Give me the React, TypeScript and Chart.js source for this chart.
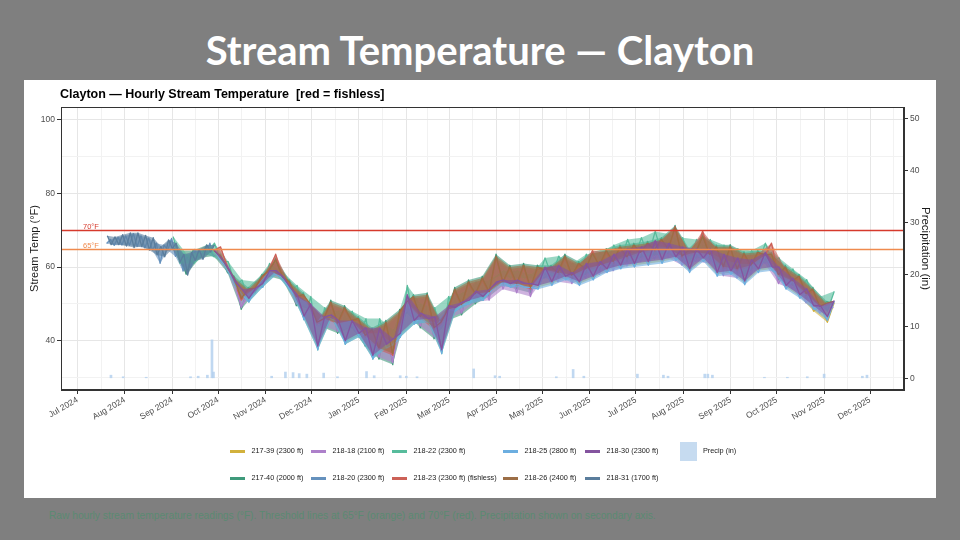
import { useEffect, useRef } from 'react';
import { Chart, registerables } from 'chart.js';

Chart.register(...registerables);

// ---------- data ----------

const seriesNames = [
  '217-39 (2300 ft)',
  '217-40 (2000 ft)',
  '218-18 (2100 ft)',
  '218-20 (2300 ft)',
  '218-22 (2300 ft)',
  '218-23 (2300 ft) (fishless)',
  '218-25 (2800 ft)',
  '218-26 (2400 ft)',
  '218-30 (2300 ft)',
  '218-31 (1700 ft)',
];

const seriesColors = [
  '#d2b13c',
  '#3f9a7b',
  '#ad80ca',
  '#6591bd',
  '#57bc9c',
  '#cc6157',
  '#6caee0',
  '#9c6e46',
  '#84549f',
  '#5a7d9c',
];

// first reading of each logger (UTC) and the interval between the readings kept here
const seriesStarts = [
  '2024-09-28T15:00:00Z',
  '2024-09-01T03:00:00Z',
  '2024-09-28T03:00:00Z',
  '2024-07-20T03:00:00Z',
  '2024-09-01T15:00:00Z',
  '2024-09-28T03:00:00Z',
  '2024-09-28T15:00:00Z',
  '2024-09-28T03:00:00Z',
  '2024-09-28T15:00:00Z',
  '2024-07-20T15:00:00Z',
];
const seriesStepHours = [108, 108, 108, 60, 108, 108, 108, 108, 108, 60];

const temps_217_39 = [
  64.5, 62.0, 59.8, 55.5, 53.5, 51.0, 54.3, 55.0, 59.0, 58.5,
  57.3, 54.0, 52.0, 46.2, 50.0, 38.0, 46.0, 46.5, 45.0, 39.5,
  45.5, 41.5, 43.0, 35.5, 43.0, 38.5, 40.0, 41.5, 52.0, 45.0,
  47.0, 45.5, 46.0, 37.0, 49.0, 48.5, 50.0, 50.5, 53.0, 51.5,
  53.5, 55.5, 56.0, 55.0, 56.0, 55.0, 55.0, 54.5, 59.5, 55.5,
  60.0, 57.0, 58.0, 55.5, 60.5, 57.0, 61.0, 59.0, 63.0, 60.0,
  64.5, 60.5, 65.0, 61.0, 66.7, 61.5, 66.0, 62.3, 65.0, 59.0,
  64.5, 62.0, 64.5, 58.0, 63.0, 58.5, 62.0, 55.7, 61.5, 59.0,
  63.5, 59.5, 59.5, 54.5, 56.5, 52.0, 53.6, 48.0, 49.3, 45.0, 50.4,
];

const temps_217_40 = [
  65.2, 64.5, 58.0, 64.5, 62.5, 66.0, 63.0, 63.5, 58.5, 57.5,
  48.5, 54.5, 53.0, 58.0, 57.5, 62.5, 56.5, 56.5, 49.5, 53.0,
  48.5, 45.5, 43.5, 51.0, 42.0, 49.5, 43.5, 46.5, 38.5, 43.5,
  35.0, 45.5, 33.5, 48.5, 47.5, 52.5, 43.5, 53.0, 40.5, 45.5,
  45.5, 54.5, 47.0, 56.5, 50.0, 57.5, 52.0, 63.5, 55.0, 60.5,
  54.0, 61.0, 53.0, 60.5, 58.0, 60.5, 57.0, 63.5, 56.5, 61.5,
  58.0, 64.2, 59.0, 65.0, 60.0, 66.0, 61.3, 66.5, 62.5, 67.0,
  63.2, 68.0, 63.5, 71.3, 61.5, 65.1, 62.5, 68.8, 62.0, 66.0,
  58.6, 66.1, 58.0, 64.2, 59.0, 64.5, 62.0, 64.0, 56.5, 60.5,
  55.0, 58.0, 51.3, 54.5, 48.5, 50.7, 50.0,
];

const temps_218_18 = [
  63.5, 62.8, 59.0, 56.5, 49.0, 53.0, 53.5, 56.5, 58.0, 61.0,
  57.0, 55.3, 50.0, 51.5, 49.0, 44.0, 44.0, 49.5, 42.5, 48.0,
  44.0, 45.0, 39.0, 42.0, 35.5, 44.0, 34.0, 47.0, 48.0, 51.0,
  44.0, 51.5, 41.0, 44.0, 46.0, 53.0, 47.5, 55.0, 50.5, 56.0,
  51.0, 62.0, 54.0, 59.0, 53.0, 59.5, 52.0, 59.0, 57.0, 59.0,
  56.0, 62.0, 55.5, 60.0, 57.0, 62.7, 58.0, 63.5, 59.0, 64.5,
  60.3, 65.0, 61.5, 65.5, 62.2, 66.5, 62.5, 69.8, 60.5, 63.6,
  61.5, 67.3, 61.0, 64.5, 57.6, 64.6, 57.0, 62.7, 58.0, 63.0,
  61.0, 62.5, 55.5, 59.0, 54.0, 56.5, 50.3, 53.0, 47.5, 49.2, 49.0,
];

const temps_218_20 = [
  66.4, 67.5, 65.9, 68.1, 66.0, 68.5, 65.9, 69.1, 65.6, 68.5,
  65.2, 67.9, 64.6, 66.5, 61.0, 66.0, 64.6, 67.8, 62.9, 64.5,
  58.9, 62.9, 59.9, 64.8, 62.4, 63.8, 63.4, 66.5, 62.9,
];

const temps_218_22 = [
  68.3, 61.0, 63.4, 61.0, 64.3, 63.5, 66.5, 61.5, 61.5, 55.0,
  56.5, 50.5, 56.0, 54.5, 61.0, 58.0, 58.5, 53.5, 55.0, 45.7,
  52.0, 37.5, 49.0, 46.0, 48.0, 39.0, 48.0, 41.0, 46.0, 35.0,
  46.0, 38.0, 43.0, 41.0, 55.0, 44.5, 50.0, 45.0, 49.0, 36.5,
  52.0, 48.0, 53.0, 50.0, 56.0, 51.0, 56.5, 57.5, 59.0, 57.0,
  59.0, 57.0, 58.0, 56.5, 62.5, 57.5, 63.0, 59.0, 61.0, 57.5,
  63.5, 59.0, 64.0, 61.0, 66.0, 62.0, 67.5, 62.5, 68.0, 63.0,
  69.7, 63.5, 69.0, 64.3, 68.0, 61.0, 67.5, 64.0, 67.5, 60.0,
  66.0, 60.5, 65.0, 57.7, 64.5, 61.0, 66.5, 61.5, 62.5, 56.5,
  59.5, 54.0, 56.6, 51.0, 52.0, 48.0, 53.4,
];

const temps_218_23 = [
  64.5, 65.5, 59.8, 56.5, 51.0, 53.5, 54.3, 57.0, 59.0, 63.5,
  57.3, 55.5, 52.0, 52.0, 50.0, 44.5, 46.0, 50.0, 44.5, 48.5,
  45.5, 45.5, 41.0, 42.5, 37.5, 44.5, 36.0, 47.5, 50.0, 51.5,
  46.0, 52.0, 43.0, 44.5, 48.0, 53.5, 49.5, 55.5, 52.5, 56.5,
  53.0, 62.5, 56.0, 59.5, 55.0, 60.0, 54.0, 59.5, 59.0, 59.5,
  58.0, 62.5, 57.5, 60.5, 59.0, 64.5, 60.0, 64.0, 61.0, 65.0,
  62.3, 65.5, 63.5, 66.0, 64.2, 67.0, 64.5, 71.0, 62.5, 64.1,
  63.5, 69.8, 63.0, 65.0, 59.6, 65.1, 59.0, 63.2, 60.0, 63.5,
  63.0, 66.5, 57.5, 59.5, 56.0, 57.0, 52.3, 53.5, 49.3, 49.7, 50.7,
];

const temps_218_25 = [
  64.5, 61.5, 59.8, 55.0, 52.5, 50.5, 54.3, 54.5, 59.0, 58.0,
  57.3, 53.5, 52.0, 45.7, 50.0, 37.5, 46.0, 46.0, 44.8, 39.0,
  45.5, 41.0, 42.0, 35.0, 42.0, 38.0, 39.0, 41.0, 51.0, 44.5,
  46.5, 45.0, 45.0, 36.5, 48.5, 48.0, 49.8, 50.0, 52.8, 51.0,
  53.3, 55.0, 56.0, 54.5, 55.5, 54.5, 54.5, 54.0, 59.3, 55.0,
  59.0, 56.5, 57.8, 55.0, 59.8, 56.5, 60.5, 58.5, 62.0, 59.5,
  63.5, 60.0, 64.3, 60.5, 65.7, 61.0, 65.3, 61.8, 64.0, 58.5,
  64.0, 61.5, 63.8, 57.5, 62.0, 58.0, 61.0, 55.2, 60.8, 58.5,
  63.3, 59.0, 58.5, 54.0, 56.3, 51.5, 53.0, 48.5, 49.3, 45.5, 50.7,
];

const temps_218_26 = [
  64.5, 63.0, 59.8, 57.0, 51.5, 54.0, 54.3, 57.5, 59.0, 62.0,
  57.3, 56.0, 52.0, 52.5, 50.0, 45.0, 46.0, 50.5, 44.8, 49.0,
  45.5, 46.0, 41.5, 43.0, 38.0, 45.0, 36.5, 48.0, 50.5, 52.0,
  46.5, 52.5, 43.5, 45.0, 48.5, 54.0, 49.8, 56.0, 52.8, 57.0,
  53.3, 63.0, 56.0, 60.0, 55.5, 60.5, 54.5, 60.0, 59.3, 60.0,
  58.5, 63.0, 57.8, 61.0, 59.5, 63.7, 60.5, 64.5, 61.5, 65.5,
  62.8, 66.0, 64.0, 66.5, 64.7, 67.5, 65.0, 70.8, 63.0, 64.6,
  64.0, 68.3, 63.5, 65.5, 60.1, 65.6, 59.5, 63.7, 60.5, 64.0,
  63.3, 63.5, 58.0, 60.0, 56.3, 57.5, 52.8, 54.0, 49.3, 50.2, 50.7,
];

const temps_218_30 = [
  64.5, 62.5, 59.8, 56.0, 54.0, 51.5, 54.3, 55.5, 59.0, 59.0,
  57.3, 54.5, 52.5, 46.7, 50.0, 38.5, 46.5, 47.0, 45.5, 40.0,
  45.5, 42.0, 43.5, 36.0, 43.5, 39.0, 40.5, 42.0, 52.5, 45.5,
  47.5, 46.0, 46.5, 37.5, 49.5, 49.0, 50.5, 51.0, 53.5, 52.0,
  54.0, 56.0, 56.5, 55.5, 56.5, 55.5, 55.5, 55.0, 60.0, 56.0,
  60.5, 57.5, 58.5, 56.0, 61.0, 57.5, 61.5, 59.5, 63.5, 60.5,
  65.0, 61.0, 65.5, 61.5, 67.2, 62.0, 66.5, 62.8, 65.5, 59.5,
  65.0, 62.5, 65.0, 58.5, 63.5, 59.0, 62.5, 56.2, 62.0, 59.5,
  64.0, 60.0, 60.0, 55.0, 57.0, 52.5, 54.1, 49.5, 49.5, 46.5, 50.9,
];

const temps_218_31 = [
  68.5, 66.1, 68.2, 66.1, 68.8, 65.7, 69.3, 65.3, 69.3, 65.6,
  68.6, 64.6, 68.0, 63.3, 65.6, 62.8, 67.4, 65.0, 66.5, 61.3,
  63.5, 57.8, 64.0, 61.8, 64.8, 62.1, 66.0, 64.1, 66.0,
];

const seriesTemps = [
  temps_217_39,
  temps_217_40,
  temps_218_18,
  temps_218_20,
  temps_218_22,
  temps_218_23,
  temps_218_25,
  temps_218_26,
  temps_218_30,
  temps_218_31,
];

const precipDates = [
  '2024-07-23', '2024-07-31', '2024-08-15', '2024-09-13', '2024-09-18', '2024-09-24',
  '2024-09-27', '2024-09-28', '2024-11-05', '2024-11-14', '2024-11-19', '2024-11-23',
  '2024-11-28', '2024-12-09', '2024-12-18', '2025-01-06', '2025-01-11', '2025-01-28',
  '2025-02-01', '2025-02-08', '2025-03-17', '2025-03-31', '2025-04-03', '2025-05-10',
  '2025-05-21', '2025-05-28', '2025-07-02', '2025-07-19', '2025-07-22', '2025-08-15',
  '2025-08-17', '2025-08-20', '2025-09-23', '2025-10-08', '2025-10-21', '2025-11-01',
  '2025-11-26', '2025-11-29',
];
const precipInches = [
  0.6, 0.3, 0.2, 0.3, 0.4, 0.6,
  7.4, 1.2, 0.4, 1.2, 1.1, 0.9,
  0.8, 1.0, 0.3, 1.3, 0.5, 0.5,
  0.4, 0.3, 1.8, 0.5, 0.4, 0.3,
  1.7, 0.4, 0.8, 0.6, 0.4, 0.8,
  0.8, 0.6, 0.2, 0.2, 0.3, 0.8,
  0.4, 0.6,
];

const monthStarts = [
  '2024-07-01', '2024-08-01', '2024-09-01', '2024-10-01', '2024-11-01', '2024-12-01',
  '2025-01-01', '2025-02-01', '2025-03-01', '2025-04-01', '2025-05-01', '2025-06-01',
  '2025-07-01', '2025-08-01', '2025-09-01', '2025-10-01', '2025-11-01', '2025-12-01',
  '2026-01-01',
];
const monthLabels = [
  'Jul 2024', 'Aug 2024', 'Sep 2024', 'Oct 2024', 'Nov 2024', 'Dec 2024',
  'Jan 2025', 'Feb 2025', 'Mar 2025', 'Apr 2025', 'May 2025', 'Jun 2025',
  'Jul 2025', 'Aug 2025', 'Sep 2025', 'Oct 2025', 'Nov 2025', 'Dec 2025',
  'Jan 2026',
];

const tempMajorTicks = [40, 60, 80, 100];
const tempMinorTicks = [30, 50, 70, 90];
const precipTicks = [0, 10, 20, 30, 40, 50];

const thresholdValues = [70, 65];
const thresholdLabels = ['70°F', '65°F'];
const thresholdColors = ['#d63a2c', '#ef8a4e'];

// ---------- helpers ----------

const DAY0 = Date.UTC(2024, 6, 1);
const toDay = (iso: string) => (Date.parse(iso) - DAY0) / 86400000;

const X_MIN = -10.65;
const X_MAX = 540.2;

const SANS = '"Liberation Sans", Arial, Helvetica, sans-serif';

const majorDays = monthStarts.map(toDay);
const minorDays = majorDays.slice(0, -1).map((d, i) => (d + majorDays[i + 1]) / 2);
const labelByDay = new Map<number, string>();
majorDays.forEach((d, i) => labelByDay.set(d, monthLabels[i]));
const majorDaySet = new Set(majorDays);
const xTickValues = [...majorDays, ...minorDays]
  .filter((d) => d >= X_MIN && d <= X_MAX)
  .sort((a, b) => a - b);

const MAJOR_GRID = '#e6e6e6';
const MINOR_GRID = '#f2f2f2';
const AXIS_DARK = '#333333';

const withAlpha = (hex: string, a: number) => {
  const n = parseInt(hex.slice(1), 16);
  return `rgba(${(n >> 16) & 255},${(n >> 8) & 255},${n & 255},${a})`;
};

const lineDatasets = seriesNames.map((name, i) => {
  const start = toDay(seriesStarts[i]);
  const step = seriesStepHours[i] / 24;
  return {
    type: 'line' as const,
    label: name,
    data: seriesTemps[i].map((t, j) => ({ x: start + j * step, y: t })),
    borderColor: seriesColors[i],
    bandColor: withAlpha(seriesColors[i], 0.6),
    borderWidth: 1.3,
    borderJoinStyle: 'round' as const,
    pointRadius: 0,
    tension: 0,
    fill: false,
    yAxisID: 'y',
    order: 100 - i,
  };
});

const precipDataset = {
  type: 'bar' as const,
  label: 'Precip (in)',
  data: precipDates.map((d, i) => ({ x: toDay(d), y: precipInches[i] })),
  backgroundColor: 'rgba(176, 206, 238, 0.8)',
  borderWidth: 0,
  barThickness: 2,
  grouped: false,
  yAxisID: 'y2',
  order: 1000,
};

// Shades the span between a logger's alternating afternoon and pre-dawn readings,
// so each record reads as a daily-range band under its trace.
const bandPlugin = {
  id: 'readingBands',
  beforeDatasetDraw(chart: any, args: any) {
    const ds = chart.data.datasets[args.index];
    if (!ds.bandColor) return;
    const pts = args.meta.data;
    if (!pts || pts.length < 3) return;
    const { ctx, chartArea: a } = chart;
    ctx.save();
    ctx.beginPath();
    ctx.rect(a.left, a.top, a.right - a.left, a.bottom - a.top);
    ctx.clip();
    ctx.beginPath();
    ctx.moveTo(pts[0].x, pts[0].y);
    for (let j = 2; j < pts.length; j += 2) ctx.lineTo(pts[j].x, pts[j].y);
    const lastOdd = pts.length % 2 === 0 ? pts.length - 1 : pts.length - 2;
    for (let j = lastOdd; j >= 1; j -= 2) ctx.lineTo(pts[j].x, pts[j].y);
    ctx.closePath();
    ctx.fillStyle = ds.bandColor;
    ctx.fill();
    ctx.restore();
  },
};

const thresholdPlugin = {
  id: 'thresholdLines',
  afterDatasetsDraw(chart: any) {
    const { ctx, chartArea: a, scales } = chart;
    ctx.save();
    thresholdValues.forEach((v, i) => {
      const py = Math.round(scales.y.getPixelForValue(v)) + 0.5;
      ctx.strokeStyle = thresholdColors[i];
      ctx.lineWidth = 1.5;
      ctx.beginPath();
      ctx.moveTo(a.left, py);
      ctx.lineTo(a.right, py);
      ctx.stroke();
      ctx.fillStyle = thresholdColors[i];
      ctx.font = `7.5px ${SANS}`;
      ctx.textAlign = 'left';
      ctx.textBaseline = 'alphabetic';
      ctx.fillText(thresholdLabels[i], a.left + 22, py - 2);
    });
    ctx.restore();
  },
  afterDraw(chart: any) {
    const { ctx, chartArea: a } = chart;
    ctx.save();
    ctx.strokeStyle = AXIS_DARK;
    ctx.lineWidth = 1;
    ctx.strokeRect(a.left + 0.5, a.top + 0.5, a.right - a.left - 1, a.bottom - a.top - 1);
    ctx.restore();
  },
};

const tickFont = { family: SANS, size: 8.5 };

export default function App() {
  const canvasRef = useRef<HTMLCanvasElement | null>(null);

  useEffect(() => {
    const canvas = canvasRef.current;
    if (!canvas) return;
    const chart = new Chart(canvas, {
      type: 'line',
      data: { datasets: [...lineDatasets, precipDataset] as any },
      options: {
        animation: false,
        responsive: false,
        maintainAspectRatio: false,
        devicePixelRatio: 1,
        normalized: true,
        layout: { padding: { top: 27, left: 0, right: 0, bottom: 48 } },
        plugins: {
          legend: { display: false },
          tooltip: { enabled: false },
          title: { display: false },
        },
        scales: {
          x: {
            type: 'linear',
            min: X_MIN,
            max: X_MAX,
            offset: false,
            afterBuildTicks: (scale: any) => {
              scale.ticks = xTickValues.map((v) => ({ value: v }));
            },
            afterFit: (scale: any) => {
              scale.height = 60;
            },
            ticks: {
              autoSkip: false,
              maxRotation: 30,
              minRotation: 30,
              padding: 1,
              color: '#4d4d4d',
              font: tickFont,
              callback: (v: any) => labelByDay.get(v) ?? '',
            },
            grid: {
              offset: false,
              color: (ctx: any) => (majorDaySet.has(ctx.tick?.value) ? MAJOR_GRID : MINOR_GRID),
              tickColor: (ctx: any) =>
                majorDaySet.has(ctx.tick?.value) ? AXIS_DARK : 'rgba(0,0,0,0)',
              tickLength: 4,
              lineWidth: 1,
            },
            border: { color: AXIS_DARK, width: 1 },
          },
          y: {
            type: 'linear',
            position: 'left',
            min: 26.6,
            max: 103.5,
            afterBuildTicks: (scale: any) => {
              scale.ticks = [...tempMinorTicks, ...tempMajorTicks]
                .sort((a, b) => a - b)
                .map((v) => ({ value: v }));
            },
            afterFit: (scale: any) => {
              scale.width = 37;
            },
            ticks: {
              padding: 2,
              color: '#4d4d4d',
              font: tickFont,
              callback: (v: any) => (tempMajorTicks.includes(v) ? String(v) : ''),
            },
            grid: {
              color: (ctx: any) =>
                tempMajorTicks.includes(ctx.tick?.value) ? MAJOR_GRID : MINOR_GRID,
              tickColor: (ctx: any) =>
                tempMajorTicks.includes(ctx.tick?.value) ? AXIS_DARK : 'rgba(0,0,0,0)',
              tickLength: 4,
            },
            border: { color: AXIS_DARK, width: 1 },
            title: {
              display: true,
              text: 'Stream Temp (°F)',
              color: '#1a1a1a',
              font: { family: SANS, size: 11 },
              padding: { top: 4, bottom: 0 },
            },
          },
          y2: {
            type: 'linear',
            position: 'right',
            min: -2.25,
            max: 52.2,
            afterBuildTicks: (scale: any) => {
              scale.ticks = precipTicks.map((v) => ({ value: v }));
            },
            afterFit: (scale: any) => {
              scale.width = 32;
            },
            ticks: {
              padding: 2,
              color: '#4d4d4d',
              font: tickFont,
            },
            grid: {
              drawOnChartArea: false,
              tickColor: AXIS_DARK,
              tickLength: 4,
            },
            border: { color: AXIS_DARK, width: 1 },
            title: {
              display: true,
              text: 'Precipitation (in)',
              color: '#1a1a1a',
              font: { family: SANS, size: 11.5 },
              padding: { top: 4, bottom: 0 },
            },
          },
        },
      } as any,
      plugins: [bandPlugin, thresholdPlugin],
    });
    return () => chart.destroy();
  }, []);

  const legendCols = [206, 287, 368, 479, 561];
  const legendRows = [371, 398];

  return (
    <div
      style={{
        position: 'fixed',
        left: 0,
        top: 0,
        width: 960,
        height: 540,
        background: '#7f7f7f',
        overflow: 'hidden',
        fontFamily: SANS,
      }}
    >
      <div
        style={{
          position: 'absolute',
          left: 0,
          top: 50,
          width: 960,
          transform: 'translateY(-50%)',
          textAlign: 'center',
          color: '#ffffff',
          fontFamily: 'Lato, "Open Sans", sans-serif',
          fontWeight: 700,
          fontSize: 40,
          lineHeight: 1,
        }}
      >
        Stream Temperature — Clayton
      </div>

      <div
        style={{
          position: 'absolute',
          left: 24,
          top: 80,
          width: 912,
          height: 418,
          background: '#ffffff',
        }}
      >
        <canvas
          ref={canvasRef}
          width={912}
          height={418}
          style={{ position: 'absolute', left: 0, top: 0, width: 912, height: 418 }}
        />
        <div
          style={{
            position: 'absolute',
            left: 36,
            top: 14,
            transform: 'translateY(-50%)',
            fontSize: 12.5,
            fontWeight: 700,
            color: '#000000',
            whiteSpace: 'pre',
            lineHeight: 1,
          }}
        >
          {'Clayton — Hourly Stream Temperature  [red = fishless]'}
        </div>

        {seriesNames.map((name, i) => {
          const x = legendCols[Math.floor(i / 2)];
          const y = legendRows[i % 2];
          return (
            <div key={name}>
              <div
                style={{
                  position: 'absolute',
                  left: x,
                  top: y - 1.5,
                  width: 15,
                  height: 3,
                  background: seriesColors[i],
                }}
              />
              <div
                style={{
                  position: 'absolute',
                  left: x + 21.5,
                  top: y,
                  transform: 'translateY(-50%)',
                  fontSize: 7.3,
                  color: '#1a1a1a',
                  whiteSpace: 'pre',
                  lineHeight: 1,
                }}
              >
                {name}
              </div>
            </div>
          );
        })}
        <div
          style={{
            position: 'absolute',
            left: 656,
            top: 362,
            width: 17,
            height: 19,
            background: '#c6dbf0',
          }}
        />
        <div
          style={{
            position: 'absolute',
            left: 679,
            top: 371,
            transform: 'translateY(-50%)',
            fontSize: 7.3,
            color: '#1a1a1a',
            whiteSpace: 'pre',
            lineHeight: 1,
          }}
        >
          Precip (in)
        </div>
      </div>

      <div
        style={{
          position: 'absolute',
          left: 49,
          top: 516,
          transform: 'translateY(-50%)',
          fontSize: 10.2,
          color: '#5b8a72',
          whiteSpace: 'pre',
          lineHeight: 1,
        }}
      >
        Raw hourly stream temperature readings (°F). Threshold lines at 65°F (orange) and 70°F (red). Precipitation shown on secondary axis.
      </div>
    </div>
  );
}
